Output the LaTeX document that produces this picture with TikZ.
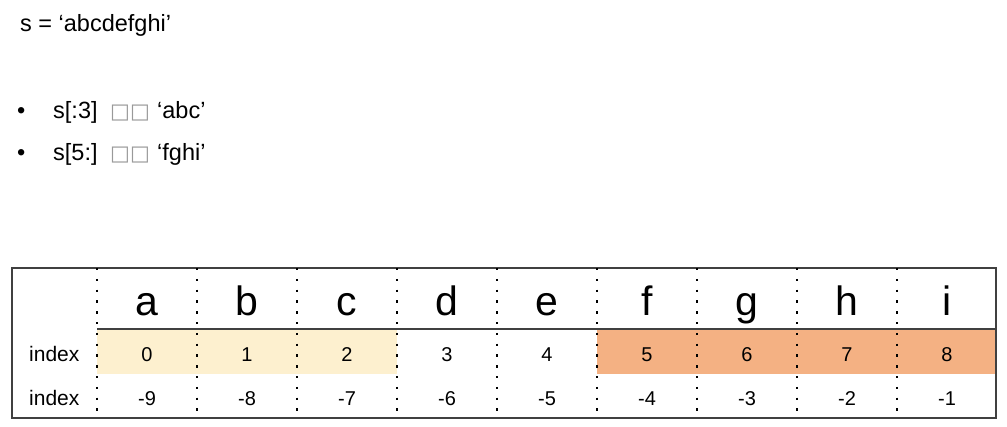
\documentclass[tikz,border=0pt]{standalone}
\usepackage{fontspec}
\setmainfont{Liberation Sans}
\newfontfamily\symfont{DejaVu Sans}
\begin{document}
\begin{tikzpicture}[x=1pt,y=-1pt,
  txt/.style={inner sep=0pt,anchor=base west,font=\fontsize{23.5}{28}\selectfont},
  letter/.style={inner sep=0pt,anchor=base,font=\fontsize{41}{48}\selectfont},
  num/.style={inner sep=0pt,anchor=base,font=\fontsize{20}{24}\selectfont},
  lab/.style={inner sep=0pt,anchor=base west,font=\fontsize{21}{25}\selectfont},
  tofu/.style={inner sep=0pt,anchor=base west,text=black!40,font=\symfont\fontsize{21}{25}\selectfont},
  sep/.style={line width=2.4pt,dash pattern=on 2.4pt off 8.4pt,black},
  border/.style={line width=1.3pt,draw=black!75}]
\useasboundingbox[fill=white] (0,0) rectangle (1007,426);
% fills
\fill[fill={rgb,255:red,253;green,240;blue,207}] (97,330) rectangle (397,374);
\fill[fill={rgb,255:red,244;green,177;blue,131}] (597,330) rectangle (996,374);
% table lines
\draw[border] (12,268) rectangle (996,418);
\draw[border] (97,329) -- (996,329);
\foreach \x in {97,197,...,897} \draw[sep] (\x,268) -- (\x,418);
% top texts
\node[txt] (title) at (20,31) {s = ‘abcdefghi’};
\node[txt] (b1) at (17,118) {•};
\node[txt] (s1) at (53,118) {s[:3]};
\node[tofu] (t1) at (110,118) {□□};
\node[txt] (r1) at (157,118) {‘abc’};
\node[txt] (b2) at (17,160) {•};
\node[txt] (s2) at (53,160) {s[5:]};
\node[tofu] (t2) at (110,160) {□□};
\node[txt] (r2) at (157,160) {‘fghi’};
% row labels
\node[lab] (ia) at (29,361) {index};
\node[lab] (ib) at (29,405) {index};
% cells
\foreach \c [count=\i from 0] in {a,b,c,d,e,f,g,h,i} {
  \pgfmathtruncatemacro{\neg}{\i-9}
  \node[letter] (l\i) at (147+100*\i,315) {\c};
  \node[num] (p\i) at (147+100*\i,361) {\i};
  \node[num] (n\i) at (147+100*\i,405) {\neg};
}
\end{tikzpicture}
\end{document}
